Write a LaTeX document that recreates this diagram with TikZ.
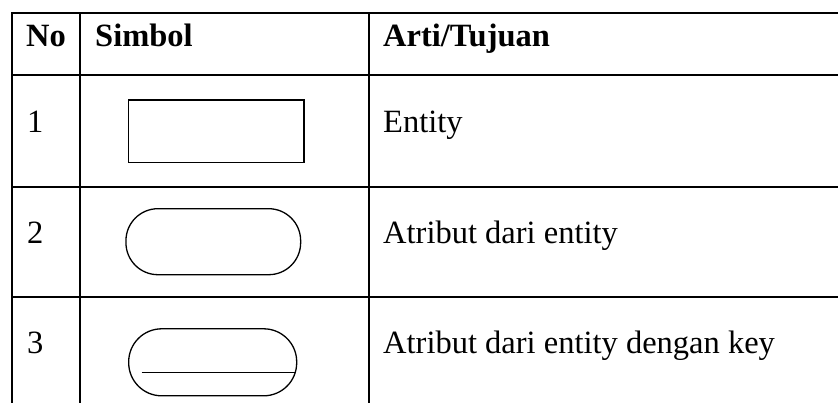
\documentclass[tikz,border=0pt]{standalone}
\usepackage{fontspec}
\setmainfont{Liberation Serif}
\begin{document}
\begin{tikzpicture}[x=1pt,y=-1pt,
  grid/.style={line width=2pt, line cap=rect},
  shapeline/.style={draw, line width=1.3pt},
  txt/.style={anchor=base west, inner sep=0pt, font=\fontsize{32.5}{38}\selectfont},
  hdr/.style={txt, font=\fontsize{32.5}{38}\selectfont\bfseries}]
\useasboundingbox (0,0) rectangle (838,403);
% table rules
\foreach \yy/\nm in {12.7/h0,74.7/h1,186.7/h2,297/h3}{
  \coordinate (\nm L) at (12,\yy);
  \coordinate (\nm R) at (838,\yy);
  \draw[grid] (\nm L) -- (\nm R);
}
\foreach \xx/\nm in {12/v0,80/v1,369/v2}{
  \coordinate (\nm T) at (\xx,12.7);
  \coordinate (\nm B) at (\xx,403);
  \draw[grid] (\nm T) -- (\nm B);
}
% header
\node[hdr] (hno) at (26,46.7) {No};
\node[hdr] (hsym) at (95,46.7) {Simbol};
\node[hdr] (hart) at (383,46.7) {Arti/Tujuan};
% row 1
\node[txt] (n1) at (27,133) {1};
\node[shapeline, minimum width=175.3pt, minimum height=62.7pt, inner sep=0pt] (ent) at (216.3,131.3) {};
\node[txt] (t1) at (383,133) {Entity};
% row 2
\node[txt] (n2) at (27,243.3) {2};
\node[shapeline, rounded corners=32pt, minimum width=174.7pt, minimum height=66pt, inner sep=0pt] (att) at (213.3,241.7) {};
\node[txt] (t2) at (383,243.3) {Atribut dari entity};
% row 3
\node[txt] (n3) at (27,353.3) {3};
\node[shapeline, rounded corners=33pt, minimum width=168pt, minimum height=67pt, inner sep=0pt] (key) at (212.7,362.3) {};
\coordinate (kl) at (141.7,372.7);
\coordinate (kr) at (295.5,372.7);
\draw[line width=1.3pt] (kl) -- (kr);
\node[txt] (t3) at (383,353.3) {Atribut dari entity dengan key};
\end{tikzpicture}
\end{document}
